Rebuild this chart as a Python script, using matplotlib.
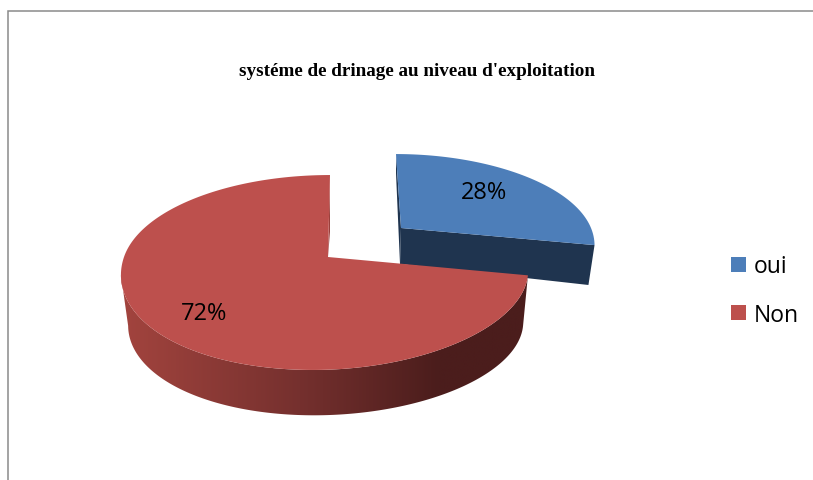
import numpy as np
import matplotlib
matplotlib.use("Agg")
import matplotlib.pyplot as plt
from matplotlib.colors import LinearSegmentedColormap
from matplotlib.patches import Patch, Polygon

# Data
labels = ["oui", "Non"]
values = [28, 72]
title = "systéme de drinage au niveau d'exploitation"

BLUE = "#4D7EB9"
RED = "#BD504D"
NAVY = "#1F344F"
RED_CUT = "#9A403C"

fig = plt.figure(figsize=(8.13, 4.81), dpi=100)
ax = fig.add_axes([0, 0, 1, 1])
ax.axis("off")

# angles of the slices, clockwise from the top
edges = np.concatenate([[0], np.cumsum(values)]) / np.sum(values) * 2 * np.pi


def rim(theta, cx, cy, a, b_right, b_left, k, far_shift, near_shift):
    # point on the edge of a tilted disc seen in perspective
    X = np.sin(theta)
    Y = np.cos(theta)
    d = 1 + k * Y
    b = np.where(X >= 0, b_right, b_left)
    # squared so that the rim stays smooth where Y changes sign
    shift = far_shift * np.clip(Y, 0, 1) ** 2 + near_shift * np.clip(-Y, 0, 1) ** 2
    return cx + b * X / d + shift, cy - a * Y / d


# frame of the chart area, open on the right and at the bottom
ax.plot([8, 8, 813], [481, 12, 12], color="#8A8A8A", lw=1.1, solid_joinstyle="miter")

# blue slice, pulled out
blue_top = dict(cx=401, cy=229, a=88, b_right=190, b_left=190, k=0.19, far_shift=-5, near_shift=0)
blue_low = dict(cx=400, cy=265, a=108, b_right=185, b_left=185, k=0.19, far_shift=-4, near_shift=0)
t = np.linspace(edges[0], edges[1], 80)
x1, y1 = rim(t, **blue_top)
x2, y2 = rim(t, **blue_low)

# thin cut face on the left of the blue slice
ax.add_patch(Polygon([[blue_top["cx"], blue_top["cy"]], [x1[0], y1[0]], [x2[0], y2[0]],
                      [blue_low["cx"], blue_low["cy"]]], fc=NAVY, ec="none", zorder=2))
# front cut face
ax.add_patch(Polygon([[blue_top["cx"], blue_top["cy"]], [x1[-1], y1[-1]], [x2[-1], y2[-1]],
                      [blue_low["cx"], blue_low["cy"]]], fc=NAVY, ec="none", zorder=2))
ax.add_patch(Polygon(np.vstack([[blue_top["cx"], blue_top["cy"]], np.column_stack([x1, y1])]),
                     fc=BLUE, ec="none", zorder=3))

# red slice
red_top = dict(cx=328, cy=258, a=95, b_right=198, b_left=204, k=0.159, far_shift=2, near_shift=-15)
red_low = dict(cx=326, cy=310, a=89.4, b_right=195, b_left=195, k=0.159, far_shift=4, near_shift=-12)
t = np.linspace(edges[1], edges[2], 300)
x1, y1 = rim(t, **red_top)
x2, y2 = rim(t, **red_low)

# side of the disc, shaded from left to right
# the band stops at the left extreme of each rim, a straight edge joins them
i1 = np.argmin(x1) + 1
i2 = np.argmin(x2) + 1
side_cmap = LinearSegmentedColormap.from_list(
    "side", [(0, "#A5453F"), (0.45, "#75302E"), (0.78, "#4B1D1C"), (1, "#4B1D1C")])
side = Polygon(np.vstack([np.column_stack([x1[:i1], y1[:i1]]),
                          np.column_stack([x2[:i2][::-1], y2[:i2][::-1]])]),
               fc="none", ec="none", transform=ax.transData)
ax.add_patch(side)
im = ax.imshow(np.linspace(0, 1, 256)[None, :], cmap=side_cmap, extent=[112, 530, 430, 170],
               aspect="auto", zorder=4)
im.set_clip_path(side)

# thin cut face next to the top of the red slice
ax.add_patch(Polygon([[red_top["cx"], red_top["cy"]], [x1[-1], y1[-1]], [x2[-1], y2[-1]]],
                     fc=RED_CUT, ec="none", zorder=4))
ax.add_patch(Polygon(np.vstack([[red_top["cx"], red_top["cy"]], np.column_stack([x1, y1])]),
                     fc=RED, ec="none", zorder=5))

ax.set_xlim(0, 813)
ax.set_ylim(481, 0)

# percent labels
ax.text(484, 193, f"{values[0]}%", fontsize=17, family="Open Sans", ha="center", va="center", zorder=6)
ax.text(204, 314, f"{values[1]}%", fontsize=17, family="Open Sans", ha="center", va="center", zorder=6)

ax.text(417, 72, title, fontsize=13.8, family="Liberation Serif", weight="bold", ha="center", va="center")

handles = [Patch(fc=BLUE, ec="none"), Patch(fc=RED, ec="none")]
ax.legend(handles, labels, loc="center left", bbox_to_anchor=(724 / 813, 1 - 291.5 / 481),
          frameon=False, prop={"family": "Open Sans", "size": 16.5},
          handlelength=0.68, handleheight=0.68, handletextpad=0.3, labelspacing=1.05, borderpad=0.3, borderaxespad=0)

fig.savefig("out.png", dpi=100)
